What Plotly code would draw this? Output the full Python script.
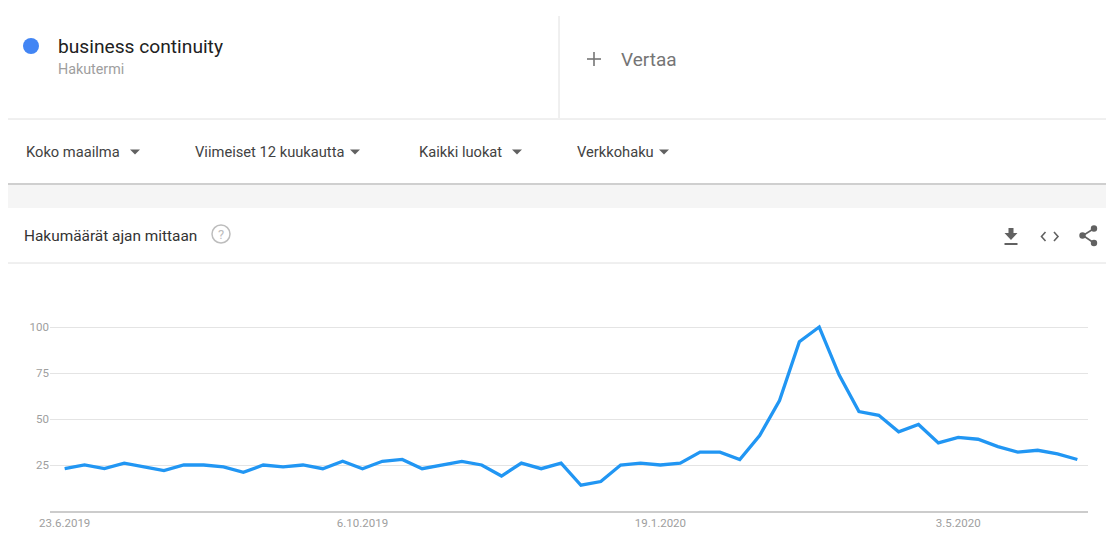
import plotly.graph_objects as go
import pandas as pd

W, H = 1106, 552

# ---- data ----
start_date = "2019-06-23"
values = [23, 25, 23, 26, 24, 22, 25, 25, 24, 21, 25, 24, 25, 23, 27, 23, 27, 28, 23, 25,
          27, 25, 19, 26, 23, 26, 14, 16, 25, 26, 25, 26, 32, 32, 28, 41, 60, 92, 100, 74,
          54, 52, 43, 47, 37, 40, 39, 35, 32, 33, 31, 28]
dates = pd.date_range(start_date, periods=len(values), freq="7D")
tick_dates = ["2019-06-23", "2019-10-06", "2020-01-19", "2020-05-03"]
tick_labels = ["23.6.2019", "6.10.2019", "19.1.2020", "3.5.2020"]
y_ticks = [25, 50, 75, 100]

search_term = "business continuity"
term_type = "Hakutermi"
compare_label = "Vertaa"
filters = ["Koko maailma", "Viimeiset 12 kuukautta", "Kaikki luokat", "Verkkohaku"]
section_title = "Hakumäärät ajan mittaan"

FONT = "Roboto, Arial, sans-serif"


def X(px):
    return px / W


def Y(py):
    return 1 - py / H


fig = go.Figure()
fig.add_trace(go.Scatter(
    x=dates, y=values, mode="lines",
    line=dict(color="#2196f3", width=3.3),
    hoverinfo="x+y", showlegend=False,
))

# plot area geometry
x_left, x_right = 50, 1088
y_zero, y_hundred = 511, 327
y_max = 105
px_per_unit = (y_zero - y_hundred) / 100
y_top = y_zero - y_max * px_per_unit

fig.update_layout(
    width=W, height=H,
    margin=dict(l=0, r=0, t=0, b=0, pad=0, autoexpand=False),
    paper_bgcolor="white", plot_bgcolor="white",
    font=dict(family=FONT),
    xaxis=dict(
        domain=[X(x_left), X(x_right)],
        range=[pd.Timestamp("2019-06-17 20:00"), pd.Timestamp("2020-06-17 18:00")],
        tickvals=tick_dates, ticktext=tick_labels,
        showgrid=False, zeroline=False, automargin=False,
        showline=True, linecolor="#cccccc", linewidth=2,
        ticks="", tickfont=dict(size=11.5, color="#9e9e9e", family=FONT),
        fixedrange=True,
    ),
    yaxis=dict(
        domain=[Y(y_zero), Y(y_top)],
        range=[0, y_max],
        tickvals=y_ticks, automargin=False,
        showgrid=True, gridcolor="#e4e4e4", gridwidth=1,
        zeroline=False, showline=False, ticks="",
        tickfont=dict(size=11.5, color="#9e9e9e", family=FONT),
        fixedrange=True,
    ),
)

shapes = []
ann = []


def hline(x0, x1, y, color="#e0e0e0", width=1):
    shapes.append(dict(type="line", xref="paper", yref="paper",
                       x0=X(x0), x1=X(x1), y0=Y(y), y1=Y(y),
                       line=dict(color=color, width=width)))


def vline(x, y0, y1, color="#e0e0e0", width=1):
    shapes.append(dict(type="line", xref="paper", yref="paper",
                       x0=X(x), x1=X(x), y0=Y(y0), y1=Y(y1),
                       line=dict(color=color, width=width)))


def path(points, fill=None, color="#757575", width=0, close=True):
    d = "M " + " L ".join(f"{X(a):.5f},{Y(b):.5f}" for a, b in points)
    if close:
        d += " Z"
    s = dict(type="path", xref="paper", yref="paper", path=d,
             line=dict(color=color, width=width))
    if fill:
        s["fillcolor"] = fill
    shapes.append(s)


def circle(cx, cy, r, fill=None, color=None, width=0):
    s = dict(type="circle", xref="paper", yref="paper",
             x0=X(cx - r), x1=X(cx + r), y0=Y(cy + r), y1=Y(cy - r),
             line=dict(color=color or "rgba(0,0,0,0)", width=width))
    if fill:
        s["fillcolor"] = fill
    shapes.append(s)


def text(x, y, s, size, color, xanchor="left"):
    ann.append(dict(xref="paper", yref="paper", x=X(x), y=Y(y), text=s,
                    showarrow=False, xanchor=xanchor, yanchor="middle",
                    font=dict(size=size, color=color, family=FONT)))


# --- top card ---
vline(559, 16, 118)
hline(8, 1106, 119)
circle(31, 46, 8, fill="#4285f4")
text(56, 46, search_term, 19.2, "#212121")
text(56, 69, term_type, 14.3, "#9e9e9e")
# plus icon
hline(587, 601, 59, color="#757575", width=1.6)
vline(594, 52, 66, color="#757575", width=1.6)
text(619, 59, compare_label, 19, "#757575")

# --- filter row ---
filter_x = [24, 193, 417, 575]
tri_x = [135, 355, 517, 664]
for fx, lbl, tx in zip(filter_x, filters, tri_x):
    text(fx, 152, lbl, 14.7, "#424242")
    path([(tx - 5, 149.5), (tx + 5, 149.5), (tx, 154.5)], fill="#616161", color="#616161")

# --- grey band ---
shapes.append(dict(type="rect", xref="paper", yref="paper",
                   x0=X(8), x1=X(1106), y0=Y(208), y1=Y(184),
                   fillcolor="#f5f5f5", line=dict(width=0)))
hline(8, 1106, 184, color="#cfcfcf", width=2)

# --- chart header ---
text(22, 236, section_title, 15.4, "#333333")
circle(221, 234, 9, color="#bdbdbd", width=1.5)
text(221, 234.5, "?", 13, "#bdbdbd", xanchor="center")
hline(8, 1106, 263)

# download icon
path([(1008.5, 228), (1013.5, 228), (1013.5, 233), (1017.5, 233), (1011, 240),
      (1004.5, 233), (1008.5, 233)], fill="#616161", color="#616161")
shapes.append(dict(type="rect", xref="paper", yref="paper",
                   x0=X(1004.5), x1=X(1017.5), y0=Y(245), y1=Y(243),
                   fillcolor="#616161", line=dict(width=0)))
# embed icon
path([(1045.5, 232), (1041.5, 236.5), (1045.5, 241)], color="#616161", width=1.6, close=False)
path([(1054, 232), (1058, 236.5), (1054, 241)], color="#616161", width=1.6, close=False)
# share icon
path([(1094, 228.5), (1083, 235.5), (1094, 243)], color="#616161", width=1.6, close=False)
circle(1094, 228.5, 3.2, fill="#616161")
circle(1082.5, 235.5, 3.2, fill="#616161")
circle(1094, 243, 3.2, fill="#616161")

fig.update_layout(shapes=shapes, annotations=ann)
fig.write_html("out.html", config={"displayModeBar": False})
